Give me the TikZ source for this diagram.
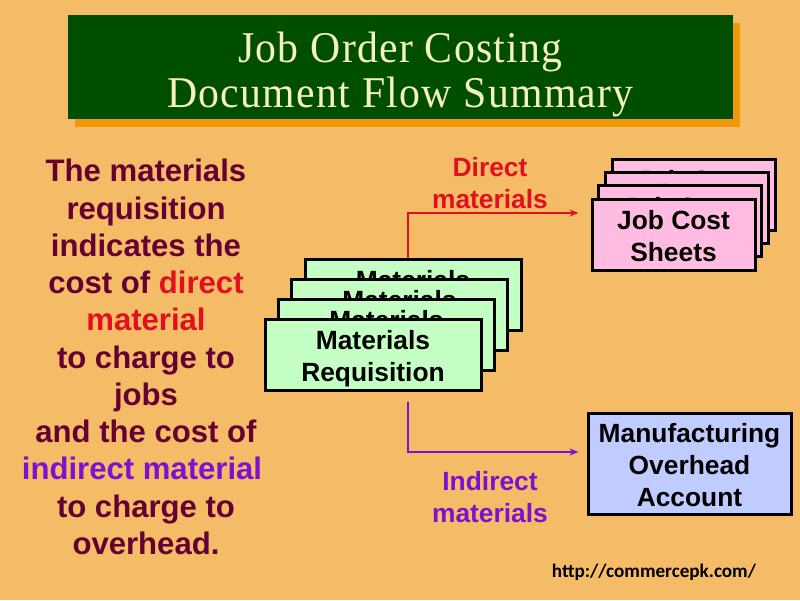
\documentclass[tikz,border=0pt]{standalone}
\usepackage{fontspec}
\setmainfont{Liberation Sans}
\newfontfamily\titlefont[LetterSpace=3,FakeStretch=0.95]{Liberation Serif}
\newfontfamily\urlfont{Carlito}
\usetikzlibrary{positioning,arrows.meta}
\usepackage{xcolor}
\definecolor{pagebg}{HTML}{F4BC66}
\definecolor{titlegreen}{HTML}{004F00}
\definecolor{titletext}{HTML}{F5F0C0}
\definecolor{titleshade}{HTML}{F09808}
\definecolor{reqgreen}{HTML}{C4FFC4}
\definecolor{jobpink}{HTML}{FFBBE0}
\definecolor{ovhblue}{HTML}{C0CCFF}
\definecolor{noteinkc}{HTML}{660033}
\definecolor{directred}{HTML}{E01020}
\definecolor{indirectpurple}{HTML}{7F10D0}
\newcommand{\docdrop}{\rule{0pt}{0.46cm}}
\newcommand{\reqdrop}{\rule{0pt}{0.54cm}}

\begin{document}
\begin{tikzpicture}[
  titlebox/.style={minimum width=13.3cm, minimum height=2.08cm, inner sep=0pt},
  doc/.style={draw=black, line width=0.06cm, font=\fontsize{15}{18.2}\selectfont\bfseries,
    align=center, inner sep=0pt},
  reqdoc/.style={doc, fill=reqgreen, minimum width=4.32cm, minimum height=1.42cm},
  jobdoc/.style={doc, fill=jobpink, minimum width=3.26cm, minimum height=1.42cm},
  flowlabel/.style={font=\fontsize{15}{18.2}\selectfont\bfseries, align=center},
  flow/.style={->, line width=0.04cm},
  >={Stealth[length=0.18cm, width=0.14cm]}
]
  \fill[pagebg] (0,0) rectangle (16,12);
  \useasboundingbox (0,0) rectangle (16,12);

  \node[titlebox, fill=titleshade] (titleshadow) at (8.15,10.5) {};
  \node[titlebox, fill=titlegreen, text=titletext, align=center,
    font=\fontsize{25}{25.6}\selectfont\titlefont] (title) at (8.01,10.66)
    {\rule{0pt}{0.9cm}Job Order Costing\\Document Flow Summary};

  \node[align=center, text=noteinkc, font=\fontsize{17.7}{21.2}\selectfont\bfseries] (note) at (2.92,4.86)
    {The materials\\requisition\\indicates the\\cost of \textcolor{directred}{direct}\\
     \textcolor{directred}{material}\\to charge to\\jobs\\and the cost of\\
     \textcolor{indirectpurple}{indirect material}\hspace*{0.16cm}\null\\to charge to\\overhead.};

  \node[reqdoc] (req4) at (8.26,6.11) {\reqdrop Materials\\Requisition};
  \node[reqdoc] (req3) at (7.99,5.71) {\reqdrop Materials\\Requisition};
  \node[reqdoc] (req2) at (7.73,5.31) {\reqdrop Materials\\Requisition};
  \node[reqdoc] (req1) at (7.46,4.91) {\reqdrop Materials\\Requisition};

  \node[jobdoc] (job4) at (13.87,8.11) {\docdrop Job Cost\\Sheets};
  \node[jobdoc] (job3) at (13.74,7.84) {\docdrop Job Cost\\Sheets};
  \node[jobdoc] (job2) at (13.60,7.58) {\docdrop Job Cost\\Sheets};
  \node[jobdoc] (job1) at (13.47,7.31) {\docdrop Job Cost\\Sheets};

  \node[doc, fill=ovhblue, minimum width=4.06cm, minimum height=2.02cm] (ovh) at (13.79,2.73)
    {\docdrop Manufacturing\\Overhead\\Account};

  \node[flowlabel, text=directred] (directlabel) at (9.8,8.34) {Direct\\materials};
  \node[flowlabel, text=indirectpurple] (indirectlabel) at (9.8,2.06) {Indirect\\materials};
  \node[font=\fontsize{10.9}{13}\selectfont\urlfont\bfseries] (url) at (13.08,0.56) {http://commercepk.com/};

  \draw[flow, draw=directred, shorten >=0.24cm] ([xshift=-0.1cm]req4.north) |- ([yshift=0.43cm]job1.west);
  \draw[flow, draw=indirectpurple, shorten <=0.2cm, shorten >=0.16cm] ([xshift=0.7cm]req1.south) |- ([yshift=0.23cm]ovh.west);
\end{tikzpicture}
\end{document}
